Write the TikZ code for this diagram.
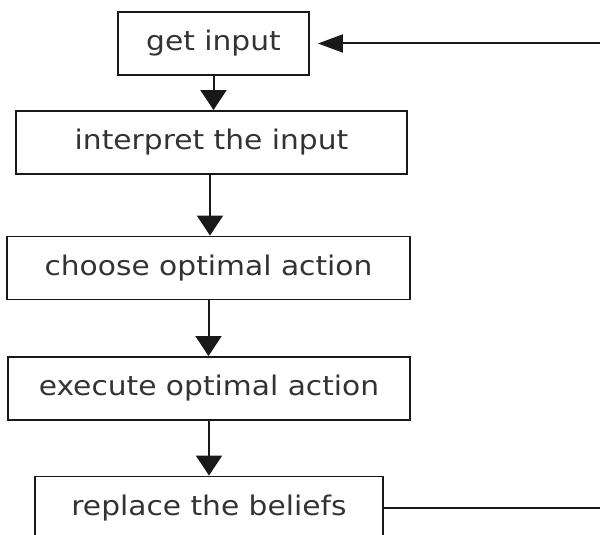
\documentclass[tikz,border=0pt]{standalone}
\usepackage{fontspec}
\setmainfont{DejaVu Sans}[FakeStretch=1.1]
\usetikzlibrary{arrows.meta}
\tikzset{
  stepbox/.style={draw=black!90, line width=1.9pt, rectangle, inner sep=0pt,
    minimum height=63pt, text=black!80, font=\fontsize{27}{32}\selectfont},
  flow/.style={draw=black!90, line width=2pt,
    -{Triangle[length=20pt,width=26pt]}},
  back/.style={draw=black!90, line width=2pt,
    -{Triangle[length=25pt,width=18pt]}, shorten >=8pt},
  plain/.style={draw=black!90, line width=2pt}
}
\begin{document}
\begin{tikzpicture}[x=1pt,y=-1pt]
\useasboundingbox (0,0) rectangle (600,535);
\node[stepbox, minimum width=191pt] (B1) at (213.5,43.5) {get input};
\node[stepbox, minimum width=391pt] (B2) at (211.5,142.5) {interpret the input};
\node[stepbox, minimum width=403pt] (B3) at (208.5,268) {choose optimal action};
\node[stepbox, minimum width=402pt] (B4) at (209,388.5) {execute optimal action};
\node[stepbox, minimum width=348pt] (B5) at (209,508) {replace the beliefs};
\coordinate (r1) at (600,508);
\coordinate (r2) at (600,43.5);
\draw[flow] (B1.south) -- (B1.south |- B2.north);
\draw[flow] ([xshift=-1.5pt]B2.south) -- ([xshift=-1.5pt]B2.south |- B3.north);
\draw[flow] (B3.south) -- (B3.south |- B4.north);
\draw[flow] (B4.south) -- (B4.south |- B5.north);
\draw[plain] (B5.east) -- (r1);
\draw[back] (r2) -- (B1.east);
\end{tikzpicture}
\end{document}
